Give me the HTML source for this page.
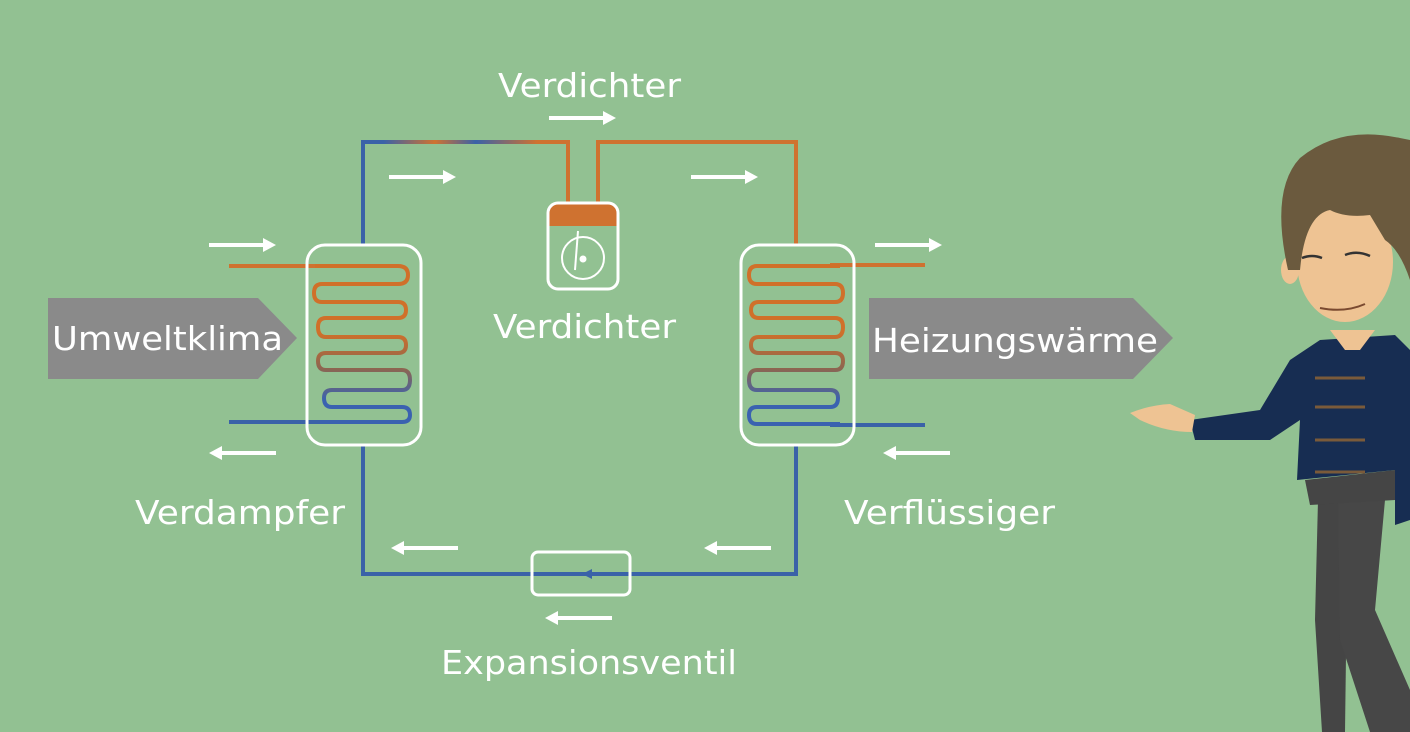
<!DOCTYPE html>
<html><head><meta charset="utf-8"><style>
html,body{margin:0;padding:0;background:#92c192;width:1410px;height:732px;overflow:hidden}
svg{display:block}
text{font-family:"DejaVu Sans","Liberation Sans",sans-serif;fill:#fff;font-size:33px}
</style></head><body>
<svg width="1410" height="732" viewBox="0 0 1410 732">
<defs>
<linearGradient id="topg" gradientUnits="userSpaceOnUse" x1="363" y1="0" x2="568" y2="0">
<stop offset="0.1" stop-color="#3a62a8"/><stop offset="0.35" stop-color="#cf7230"/><stop offset="0.55" stop-color="#3a62a8"/><stop offset="0.85" stop-color="#cf7230"/></linearGradient>
<linearGradient id="coil" gradientUnits="userSpaceOnUse" x1="0" y1="266" x2="0" y2="424">
<stop offset="0" stop-color="#d0702a"/><stop offset="0.42" stop-color="#d0702a"/><stop offset="0.65" stop-color="#8d6550"/><stop offset="0.85" stop-color="#3a62b0"/><stop offset="1" stop-color="#3a62b0"/></linearGradient>
<g id="arrR"><line x1="0" y1="0" x2="56" y2="0" stroke="#fff" stroke-width="4"/><polygon points="54,-7 67,0 54,7" fill="#fff"/></g>
<g id="arrL"><line x1="11" y1="0" x2="67" y2="0" stroke="#fff" stroke-width="4"/><polygon points="13,-7 0,0 13,7" fill="#fff"/></g>
</defs>
<polyline points="363,244 363,142 568,142 568,205" fill="none" stroke="url(#topg)" stroke-width="4"/>
<polyline points="598,205 598,142 796,142 796,244" fill="none" stroke="#cf7230" stroke-width="4"/>
<polyline points="363,445 363,574 796,574 796,445" fill="none" stroke="#3a62a8" stroke-width="4"/>
<polygon points="582,574 592,569 592,579" fill="#3a62a8"/>
<line x1="229" y1="266" x2="320" y2="266" stroke="#cf7230" stroke-width="4"/>
<line x1="229" y1="422" x2="320" y2="422" stroke="#3a62a8" stroke-width="4"/>
<path d="M315,266 H398 Q408,266 408,275 Q408,284 398,284 H322 Q314,284 314,293 Q314,302 322,302 H398 Q406,302 406,310 Q406,318 398,318 H326 Q318,318 318,327 Q318,337 326,337 H398 Q406,337 406,345 Q406,353 398,353 H326 Q318,353 318,361 Q318,370 326,370 H402 Q410,370 410,380 Q410,390 402,390 H332 Q324,390 324,398 Q324,407 332,407 H402 Q410,407 410,415 Q410,422 402,422 H320" fill="none" stroke="url(#coil)" stroke-width="4"/>
<rect x="307" y="245" width="114" height="200" rx="18" fill="none" stroke="#fff" stroke-width="3"/>
<line x1="830" y1="265" x2="925" y2="265" stroke="#cf7230" stroke-width="4"/>
<line x1="830" y1="425" x2="925" y2="425" stroke="#3a62a8" stroke-width="4"/>
<path d="M840,266 H757 Q749,266 749,275 Q749,284 757,284 H835 Q843,284 843,293 Q843,302 835,302 H759 Q751,302 751,310 Q751,318 759,318 H835 Q843,318 843,327 Q843,337 835,337 H759 Q751,337 751,345 Q751,353 759,353 H835 Q843,353 843,361 Q843,370 835,370 H757 Q749,370 749,380 Q749,390 757,390 H830 Q838,390 838,398 Q838,407 830,407 H757 Q749,407 749,415 Q749,424 757,424 H840" fill="none" stroke="url(#coil)" stroke-width="4"/>
<rect x="741" y="245" width="113" height="200" rx="18" fill="none" stroke="#fff" stroke-width="3"/>
<path d="M549,226 V214 Q549,204 559,204 H607 Q617,204 617,214 V226 Z" fill="#cf7230"/>
<rect x="548" y="203" width="70" height="86" rx="10" fill="none" stroke="#fff" stroke-width="3"/>
<circle cx="583" cy="258" r="21" fill="none" stroke="#fff" stroke-width="2"/>
<circle cx="583" cy="259" r="3.5" fill="#fff"/>
<line x1="575" y1="270" x2="578" y2="231" stroke="#fff" stroke-width="2"/>
<rect x="532" y="552" width="98" height="43" rx="6" fill="none" stroke="#fff" stroke-width="3"/>
<use href="#arrR" x="209" y="245"/><use href="#arrL" x="209" y="453"/>
<use href="#arrR" x="389" y="177"/><use href="#arrR" x="549" y="118"/>
<use href="#arrR" x="691" y="177"/><use href="#arrR" x="875" y="245"/>
<use href="#arrL" x="883" y="453"/><use href="#arrL" x="391" y="548"/>
<use href="#arrL" x="704" y="548"/><use href="#arrL" x="545" y="618"/>
<polygon points="48,298 258,298 297,338 258,379 48,379" fill="#8a8a8a"/>
<polygon points="869,298 1133,298 1173,338 1133,379 869,379" fill="#8a8a8a"/>
<text x="498" y="97" textLength="183" lengthAdjust="spacingAndGlyphs">Verdichter</text>
<text x="493" y="338" textLength="183" lengthAdjust="spacingAndGlyphs">Verdichter</text>
<text x="52" y="350" textLength="231" lengthAdjust="spacingAndGlyphs">Umweltklima</text>
<text x="872" y="352" textLength="286" lengthAdjust="spacingAndGlyphs">Heizungswärme</text>
<text x="135" y="524" textLength="210" lengthAdjust="spacingAndGlyphs">Verdampfer</text>
<text x="844" y="524" textLength="211" lengthAdjust="spacingAndGlyphs">Verflüssiger</text>
<text x="441" y="674" textLength="296" lengthAdjust="spacingAndGlyphs">Expansionsventil</text>
<g>
<polygon points="1318,500 1348,500 1345,732 1322,732 1315,620" fill="#454545"/>
<polygon points="1338,500 1385,500 1375,610 1410,690 1410,732 1370,732 1340,640" fill="#474747"/>
<polygon points="1305,480 1395,470 1395,500 1310,505" fill="#454545"/>
<polygon points="1320,340 1395,335 1410,350 1410,520 1395,525 1395,470 1297,480 1300,420 1270,440 1195,440 1190,420 1260,410 1290,360" fill="#172d52"/>
<path d="M1130,413 Q1150,405 1170,404 L1195,415 L1192,432 Q1165,432 1140,420 Z" fill="#eec393"/>
<polygon points="1330,330 1375,330 1360,350 1345,350" fill="#eec393"/>
<ellipse cx="1345" cy="262" rx="48" ry="60" fill="#eec393"/>
<ellipse cx="1290" cy="270" rx="9" ry="14" fill="#eec393"/>
<path d="M1288,270 Q1270,190 1300,158 Q1340,125 1400,138 L1410,140 L1410,280 Q1400,250 1385,240 L1370,215 Q1345,218 1330,210 Q1305,215 1300,270 Z" fill="#6b5a3e"/>
<path d="M1320,308 Q1345,313 1365,304" stroke="#7a4a30" stroke-width="2" fill="none"/>
<path d="M1302,258 Q1312,254 1322,258 M1345,255 Q1357,250 1370,256" stroke="#333" stroke-width="2.5" fill="none"/>
<g stroke="#7a5a3a" stroke-width="3"><line x1="1315" y1="378" x2="1365" y2="378"/><line x1="1315" y1="407" x2="1365" y2="407"/><line x1="1315" y1="440" x2="1365" y2="440"/><line x1="1315" y1="472" x2="1365" y2="472"/></g>
</g>
</svg>
</body></html>
